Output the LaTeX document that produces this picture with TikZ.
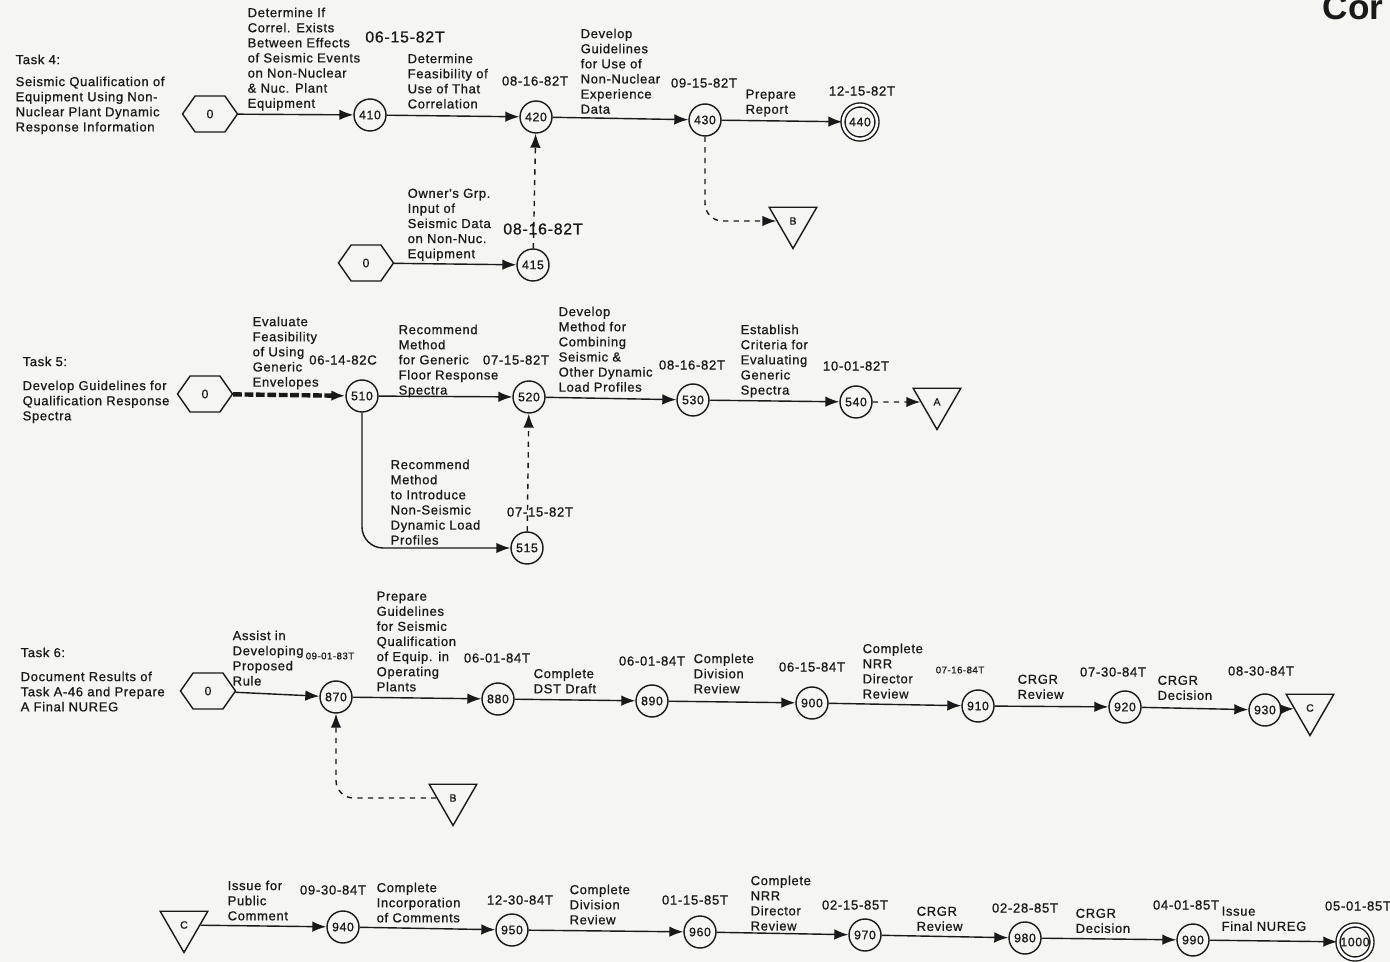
\documentclass[tikz,border=0pt]{standalone}
\usepackage{fontspec}
\setmainfont{Liberation Sans}
\newfontfamily\scanfont{Liberation Sans}[FakeBold=0.8, LetterSpace=5]
\usetikzlibrary{arrows.meta, shapes.geometric, shapes.symbols}
\definecolor{paper}{RGB}{245,245,242}
\definecolor{ink}{RGB}{25,25,25}

\begin{document}
\begin{tikzpicture}[x=0.02cm, y=-0.02cm, thick, ink,
  >={Latex[length=2.8mm,width=2.1mm]},
  ev/.style={draw,circle,minimum size=0.64cm,inner sep=0pt,fill=paper,font=\scanfont\fontsize{7}{8}\selectfont},
  fin/.style={ev,double,double distance=1.5pt,minimum size=0.68cm},
  hex/.style={draw,signal,signal to=east and west,signal pointer angle=110,minimum width=1.1cm,minimum height=0.72cm,inner sep=0pt,font=\scanfont\fontsize{7}{8}\selectfont},
  tri/.style={draw,regular polygon,regular polygon sides=3,shape border rotate=180,minimum size=1.1cm,inner sep=0pt,font=\scanfont\fontsize{6}{7}\selectfont},
  lbl/.style={anchor=north west,align=left,inner sep=0pt,font=\scanfont\fontsize{7.4}{8.6}\selectfont},
  dt/.style={inner sep=0pt,font=\scanfont\fontsize{7.5}{9}\selectfont},
  bigdt/.style={inner sep=0pt,font=\scanfont\fontsize{9}{10}\selectfont},
  smalldt/.style={inner sep=0pt,font=\scanfont\fontsize{5.5}{7}\selectfont},
  crit/.style={line width=2.5pt,dash pattern=on 5pt off 1.5pt}]

  \fill[paper] (0,0) rectangle (1390,962);
  \useasboundingbox (0,0) rectangle (1390,962);
  \node[anchor=north west,inner sep=0pt,font=\bfseries\fontsize{20}{22}\selectfont] (cont) at (1322,-6) {Cor};

  % Task 4
  \node[lbl] (t4) at (15,54) {Task 4:};
  \node[lbl] (t4d) at (15,76) {Seismic Qualification of\\Equipment Using Non-\\Nuclear Plant Dynamic\\Response Information};
  \node[hex] (h4a) at (210,114) {0};
  \node[ev] (e410) at (370,115) {410};
  \node[ev] (e420) at (536,117) {420};
  \node[ev] (e430) at (705,120) {430};
  \node[fin] (e440) at (860,122) {440};
  \node[hex] (h4b) at (366,263) {0};
  \node[ev] (e415) at (533,265) {415};
  \node[tri] (tB) at (793,221) {B};

  \node[lbl] (a410) at (247,7) {Determine If\\Correl. Exists\\Between Effects\\of Seismic Events\\on Non-Nuclear\\\& Nuc. Plant\\Equipment};
  \node[bigdt] (d410) at (405,37) {06-15-82T};
  \node[lbl] (a420) at (407,53) {Determine\\Feasibility of\\Use of That\\Correlation};
  \node[dt] (d420) at (535,81) {08-16-82T};
  \node[lbl] (a430) at (580,28) {Develop\\Guidelines\\for Use of\\Non-Nuclear\\Experience\\Data};
  \node[dt] (d430) at (704,83) {09-15-82T};
  \node[lbl] (a440) at (745,89) {Prepare\\Report};
  \node[dt] (d440) at (862,91) {12-15-82T};
  \node[lbl] (a415) at (407,188) {Owner's Grp.\\Input of\\Seismic Data\\on Non-Nuc.\\Equipment};
  \node[bigdt] (d415) at (543,229) {08-16-82T};

  \draw[->] (h4a) -- (e410);
  \draw[->] (e410) -- (e420);
  \draw[->] (e420) -- (e430);
  \draw[->] (e430) -- (e440);
  \draw[->] (h4b) -- (e415);
  \draw[->,dashed] (e415) -- (e420);
  \draw[->,dashed,rounded corners=10pt] (e430) |- (tB);

  % Task 5
  \node[lbl] (t5) at (22,356) {Task 5:};
  \node[lbl] (t5d) at (22,380) {Develop Guidelines for\\Qualification Response\\Spectra};
  \node[hex] (h5) at (205,394) {0};
  \node[ev] (e510) at (362,396) {510};
  \node[ev] (e520) at (529,397) {520};
  \node[ev] (e530) at (693,400) {530};
  \node[ev] (e540) at (856,402) {540};
  \node[ev] (e515) at (527,548) {515};
  \node[tri] (tA) at (937,402) {A};

  \node[lbl] (a510) at (252,316) {Evaluate\\Feasibility\\of Using\\Generic\\Envelopes};
  \node[dt] (d510) at (343,360) {06-14-82C};
  \node[lbl] (a520) at (398,324) {Recommend\\Method\\for Generic\\Floor Response\\Spectra};
  \node[dt] (d520) at (516,360) {07-15-82T};
  \node[lbl] (a530) at (558,306) {Develop\\Method for\\Combining\\Seismic \&\\Other Dynamic\\Load Profiles};
  \node[dt] (d530) at (692,365) {08-16-82T};
  \node[lbl] (a540) at (740,324) {Establish\\Criteria for\\Evaluating\\Generic\\Spectra};
  \node[dt] (d540) at (856,366) {10-01-82T};
  \node[lbl] (a515) at (390,459) {Recommend\\Method\\to Introduce\\Non-Seismic\\Dynamic Load\\Profiles};
  \node[dt] (d515) at (540,512) {07-15-82T};

  \draw[->,crit] (h5) -- (e510);
  \draw[->] (e510) -- (e520);
  \draw[->] (e520) -- (e530);
  \draw[->] (e530) -- (e540);
  \draw[->,dashed] (e540) -- (tA);
  \draw[->,rounded corners=12pt] (e510) |- (e515);
  \draw[->,dashed] (e515) -- (e520);

  % Task 6
  \node[lbl] (t6) at (20,647) {Task 6:};
  \node[lbl] (t6d) at (20,671) {Document Results of\\Task A-46 and Prepare\\A Final NUREG};
  \node[hex] (h6) at (208,691) {0};
  \node[ev] (e870) at (336,697) {870};
  \node[ev] (e880) at (498,699) {880};
  \node[ev] (e890) at (652,701) {890};
  \node[ev] (e900) at (812,703) {900};
  \node[ev] (e910) at (978,706) {910};
  \node[ev] (e920) at (1125,707) {920};
  \node[ev] (e930) at (1265,710) {930};
  \node[tri] (tC) at (1310,708) {C};
  \node[tri] (tB2) at (453,798) {B};

  \node[lbl] (a870) at (232,630) {Assist in\\Developing\\Proposed\\Rule};
  \node[smalldt] (d870) at (330,656) {09-01-83T};
  \node[lbl] (a880) at (376,591) {Prepare\\Guidelines\\for Seismic\\Qualification\\of Equip. in\\Operating\\Plants};
  \node[dt] (d880) at (497,658) {06-01-84T};
  \node[lbl] (a890) at (533,668) {Complete\\DST Draft};
  \node[dt] (d890) at (652,661) {06-01-84T};
  \node[lbl] (a900) at (693,653) {Complete\\Division\\Review};
  \node[dt] (d900) at (812,667) {06-15-84T};
  \node[lbl] (a910) at (862,643) {Complete\\NRR\\Director\\Review};
  \node[smalldt] (d910) at (960,670) {07-16-84T};
  \node[lbl] (a920) at (1017,674) {CRGR\\Review};
  \node[dt] (d920) at (1113,672) {07-30-84T};
  \node[lbl] (a930) at (1157,675) {CRGR\\Decision};
  \node[dt] (d930) at (1261,671) {08-30-84T};

  \draw[->] (h6) -- (e870);
  \draw[->] (e870) -- (e880);
  \draw[->] (e880) -- (e890);
  \draw[->] (e890) -- (e900);
  \draw[->] (e900) -- (e910);
  \draw[->] (e910) -- (e920);
  \draw[->] (e920) -- (e930);
  \draw[->] (e930) -- (tC);
  \draw[->,dashed,rounded corners=10pt] (tB2) -| (e870);

  % continued
  \node[tri] (tC2) at (184,925) {C};
  \node[ev] (e940) at (343,927) {940};
  \node[ev] (e950) at (512,930) {950};
  \node[ev] (e960) at (700,932) {960};
  \node[ev] (e970) at (865,935) {970};
  \node[ev] (e980) at (1025,938) {980};
  \node[ev] (e990) at (1193,940) {990};
  \node[fin] (e1000) at (1355,942) {1000};

  \node[lbl] (a940) at (227,880) {Issue for\\Public\\Comment};
  \node[dt] (d940) at (333,890) {09-30-84T};
  \node[lbl] (a950) at (376,882) {Complete\\Incorporation\\of Comments};
  \node[dt] (d950) at (520,900) {12-30-84T};
  \node[lbl] (a960) at (569,884) {Complete\\Division\\Review};
  \node[dt] (d960) at (695,900) {01-15-85T};
  \node[lbl] (a970) at (750,875) {Complete\\NRR\\Director\\Review};
  \node[dt] (d970) at (855,905) {02-15-85T};
  \node[lbl] (a980) at (916,906) {CRGR\\Review};
  \node[dt] (d980) at (1025,908) {02-28-85T};
  \node[lbl] (a990) at (1075,908) {CRGR\\Decision};
  \node[dt] (d990) at (1186,905) {04-01-85T};
  \node[lbl] (a1000) at (1221,906) {Issue\\Final NUREG};
  \node[dt] (d1000) at (1358,906) {05-01-85T};

  \draw[->] (tC2) -- (e940);
  \draw[->] (e940) -- (e950);
  \draw[->] (e950) -- (e960);
  \draw[->] (e960) -- (e970);
  \draw[->] (e970) -- (e980);
  \draw[->] (e980) -- (e990);
  \draw[->] (e990) -- (e1000);
\end{tikzpicture}
\end{document}
